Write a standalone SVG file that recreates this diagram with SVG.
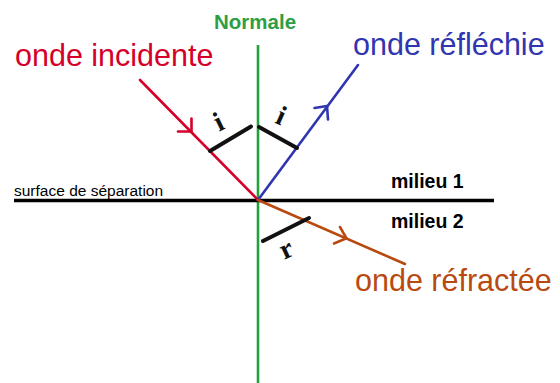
<svg xmlns="http://www.w3.org/2000/svg" width="560" height="383" viewBox="0 0 560 383">
<style>
.lbl{font-family:"Liberation Sans",Arial,sans-serif;font-size:30.5px}
.bold{font-family:"Liberation Sans",Arial,sans-serif;font-weight:bold}
.ang{font-family:"Liberation Serif","Times New Roman",serif;font-weight:bold;font-size:28px;fill:#111;text-anchor:middle}
.ray{fill:none;stroke-width:2.6;stroke-linecap:round;stroke-linejoin:round}
.mark{stroke:#111;stroke-width:4;stroke-linecap:round;fill:none}
</style>
<rect width="560" height="383" fill="#fff"/>
<g id="connectors">
  <line id="normale-line" x1="258" y1="45" x2="258" y2="383" stroke="#22a23a" stroke-width="2.6"/>
  <line id="surface-line" x1="14" y1="200.5" x2="494" y2="200.5" stroke="#000" stroke-width="3.4"/>
  <g id="ray-incident" class="ray" stroke="#d4002a">
    <line x1="140" y1="80" x2="258" y2="200"/>
    <polyline points="178,131.5 191.5,131.5 191.5,118.5"/>
  </g>
  <g id="ray-reflected" class="ray" stroke="#3035b0">
    <line x1="258" y1="200" x2="358" y2="65"/>
    <polyline points="314.5,108 327,106 328,119.5"/>
  </g>
  <g id="ray-refracted" class="ray" stroke="#b84a10">
    <line x1="258" y1="200" x2="405" y2="264"/>
    <polyline points="340,227 346.5,238.3 334,243.5"/>
  </g>
</g>
<g id="angle-i-incident">
  <line class="mark" x1="210" y1="151" x2="251" y2="126.5"/>
  <text class="ang" transform="translate(222.5,130) rotate(-26)">i</text>
</g>
<g id="angle-i-reflected">
  <line class="mark" x1="259" y1="127" x2="297" y2="148"/>
  <text class="ang" transform="translate(277.5,124) rotate(24)">i</text>
</g>
<g id="angle-r">
  <line class="mark" x1="263" y1="241" x2="309" y2="218"/>
  <text class="ang" transform="translate(290,257) rotate(-25)">r</text>
</g>
<g id="label-normale"><text class="bold" x="214" y="29" font-size="20.5" fill="#2e9e44">Normale</text></g>
<g id="label-incidente"><text class="lbl" x="15" y="66" fill="#d4002a">onde incidente</text></g>
<g id="label-reflechie"><text class="lbl" x="353" y="55" fill="#3035b0">onde réfléchie</text></g>
<g id="label-refractee"><text class="lbl" x="355" y="291" fill="#b84a10">onde réfractée</text></g>
<g id="label-milieu1"><text class="bold" x="391" y="188" font-size="19.5" fill="#000">milieu 1</text></g>
<g id="label-milieu2"><text class="bold" x="391" y="228" font-size="19.5" fill="#000">milieu 2</text></g>
<g id="label-surface"><text x="14" y="195.5" font-family="Liberation Sans, Arial, sans-serif" font-size="15.5" fill="#000">surface de séparation</text></g>
</svg>
